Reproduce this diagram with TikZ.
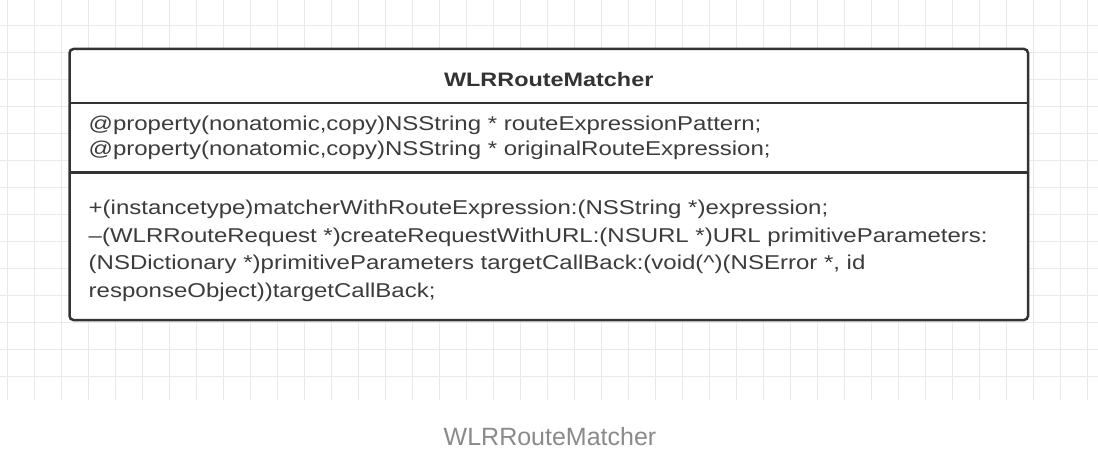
\documentclass[tikz,border=0pt]{standalone}
\usepackage{fontspec}
\setmainfont{Liberation Sans}
\newfontfamily\umlfont[FakeStretch=1.2]{Liberation Sans}
\usetikzlibrary{positioning}
\definecolor{umldark}{HTML}{333333}
\definecolor{umltext}{HTML}{3C3C3C}
\definecolor{gridgray}{HTML}{E9E9E9}
\definecolor{captiongray}{HTML}{8A8A8A}

\begin{document}
\begin{tikzpicture}[
    x=1pt, y=-1pt,
    gridline/.style={draw=gridgray, line width=0.8pt},
    classbox/.style={draw=umldark, fill=white, line width=2.5pt, rounded corners=4pt},
    divider/.style={draw=umldark, line width=2.5pt},
    classname/.style={anchor=base, inner sep=0pt, text=umldark, font=\umlfont\bfseries\fontsize{19.5}{24}\selectfont},
    member/.style={anchor=base west, inner sep=0pt, text=umltext, font=\umlfont\fontsize{20}{24}\selectfont},
    figcaption/.style={anchor=base, inner sep=0pt, text=captiongray, font=\fontsize{25}{30}\selectfont}
]
    \useasboundingbox (0,0) rectangle (1098,460);

    % Background grid
    \foreach \gx in {0,...,40}
        \draw[gridline] (7.3+27*\gx,0) -- (7.3+27*\gx,400);
    \foreach \gy in {0,...,13}
        \draw[gridline] (0,25+27*\gy) -- (1098,25+27*\gy);

    % Class box
    \coordinate (boxnw) at (69.5,49);
    \coordinate (boxse) at (1028,320);
    \draw[classbox] (boxnw) rectangle (boxse);
    \draw[divider] (69.5,103) -- (1028,103);
    \draw[divider] (69.5,172.5) -- (1028,172.5);

    % Class name
    \node[classname] (cls) at (548.75,86.5) {WLRRouteMatcher};

    % Properties
    \node[member] (attrA) at (88.5,130.5) {@property(nonatomic,copy)NSString * routeExpressionPattern;};
    \node[member] (attrB) at ([yshift=-25pt]attrA.base west) {@property(nonatomic,copy)NSString * originalRouteExpression;};

    % Methods
    \node[member] (methA) at (88.5,214.5) {+(instancetype)matcherWithRouteExpression:(NSString *)expression;};
    \node[member] (methB) at ([yshift=-27.5pt]methA.base west) {–(WLRRouteRequest *)createRequestWithURL:(NSURL *)URL primitiveParameters:};
    \node[member] (methC) at ([yshift=-27.5pt]methB.base west) {(NSDictionary *)primitiveParameters targetCallBack:(void(\textasciicircum)(NSError *, id};
    \node[member] (methD) at ([yshift=-27.5pt]methC.base west) {responseObject))targetCallBack;};

    % Caption
    \node[figcaption] (cap) at (550,445.7) {WLRRouteMatcher};
\end{tikzpicture}
\end{document}
